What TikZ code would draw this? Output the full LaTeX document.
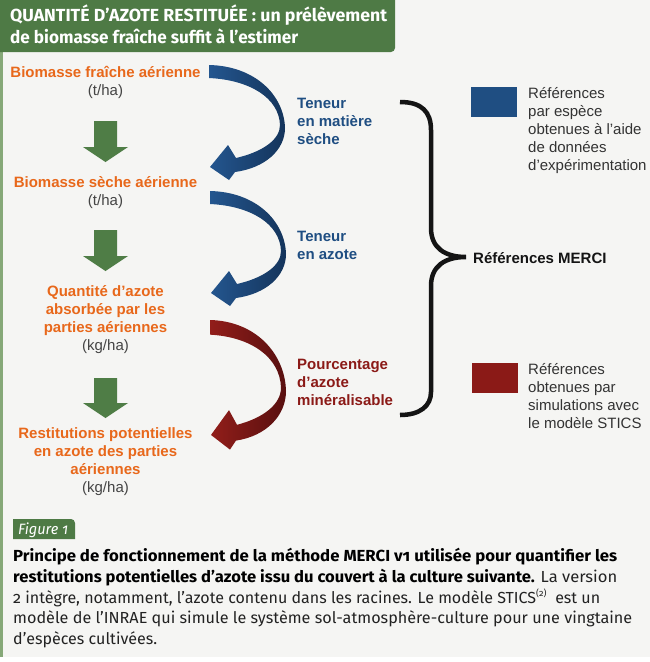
\documentclass[tikz,border=0pt]{standalone}
\usepackage{fontspec}
\setmainfont{Liberation Sans}
\newfontfamily\capfont[Numbers=OldStyle]{Fira Sans}
\usepackage{graphicx}
\definecolor{bgc}{HTML}{F5F5F3}
\definecolor{hdrG}{HTML}{4E7A45}
\definecolor{arrG}{HTML}{4F7D46}
\definecolor{bordG}{HTML}{86A878}
\definecolor{orT}{HTML}{E8681B}
\definecolor{blT}{HTML}{1F4E82}
\definecolor{rdT}{HTML}{8B1A17}
\definecolor{grT}{HTML}{444444}
\definecolor{blL}{HTML}{24568F}
\definecolor{blD}{HTML}{14345B}
\definecolor{rdL}{HTML}{921E1A}
\definecolor{rdD}{HTML}{580F0F}
\definecolor{capT}{HTML}{222222}
\definecolor{legT}{HTML}{333333}
\newcommand\fitw[2]{\resizebox{#1pt}{\height}{#2}}
\newcommand\curvarrow[5]{%
  \begin{scope}[shift={(#1,#2)},yscale=#3]
  \shade[left color=#4,right color=#5] (0,0) .. controls (46,1) and (75,30) .. (76,63)
    .. controls (76,85) and (56,103) .. (26,107) -- (20,115) -- (1,102) -- (19,80) -- (27,93)
    .. controls (53,87) and (71,75) .. (71,60) .. controls (70,33) and (41,15) .. (0,13) -- cycle;
  \end{scope}}
\newcommand\greenarrow[2]{%
  \fill[arrG] (94,#1) -- (117,#1) -- (117,{#2-15}) -- (128,{#2-15}) -- (105.5,#2)
    -- (83,{#2-15}) -- (94,{#2-15}) -- cycle;}
\tikzset{
  otext/.style={font=\fontsize{15}{18}\selectfont\bfseries, text=orT, inner sep=0pt, anchor=base},
  utext/.style={font=\fontsize{15}{18}\selectfont, text=grT, inner sep=0pt, anchor=base},
  btext/.style={font=\fontsize{15}{18}\selectfont\bfseries, text=blT, inner sep=0pt, anchor=base west},
  rtext/.style={font=\fontsize{15}{18}\selectfont\bfseries, text=rdT, inner sep=0pt, anchor=base west},
  ltext/.style={font=\fontsize{15}{18}\selectfont, text=legT, inner sep=0pt, anchor=base west},
  ttext/.style={font=\fontsize{17.5}{20}\selectfont\capfont\bfseries, text=white, inner sep=0pt, anchor=base west},
  ctext/.style={font=\fontsize{16}{20}\selectfont\capfont, text=capT, inner sep=0pt, anchor=base west},
  legbox/.style={inner sep=0pt, minimum width=46pt, minimum height=30pt}
}
\begin{document}
\begin{tikzpicture}[x=1pt,y=-1pt]
\useasboundingbox (0,0) rectangle (650,662);
\fill[white] (0,0) rectangle (650,662);
\fill[bgc] (0,0) rectangle (650,657);
\fill[bordG] (0,50) rectangle (2.5,657);
% header
\fill[hdrG] (0,0) -- (395,0) -- (395,48) .. controls (395,50.2) and (393.2,52) .. (391,52) -- (0,52) -- cycle;
\node[ttext] (t1) at (10,21) {\fitw{377}{QUANTITÉ D’AZOTE RESTITUÉE : un prélèvement}};
\node[ttext] (t2) at (10,43) {\fitw{288}{de biomasse fraîche suffit à l’estimer}};
% left column
\node[otext] (bf) at (105.5,77) {Biomasse fraîche aérienne};
\node[utext] (bfu) at (105.5,95) {(t/ha)};
\node[otext] (bs) at (105.5,187) {Biomasse sèche aérienne};
\node[utext] (bsu) at (105.5,205) {(t/ha)};
\node[otext] (q1) at (105.5,296) {Quantité d’azote};
\node[otext] (q2) at (105.5,314) {absorbée par les};
\node[otext] (q3) at (105.5,332) {parties aériennes};
\node[utext] (qu) at (105.5,350) {(kg/ha)};
\node[otext] (r1) at (105.5,438) {Restitutions potentielles};
\node[otext] (r2) at (105.5,456) {en azote des parties};
\node[otext] (r3) at (105.5,474) {aériennes};
\node[utext] (ru) at (105.5,492) {(kg/ha)};
\greenarrow{121}{162}
\greenarrow{230}{271}
\greenarrow{378}{418}
% curved arrows
\curvarrow{209}{65}{1}{blL}{blD}
\curvarrow{210}{191}{1}{blL}{blD}
\curvarrow{210}{320}{1.127}{rdL}{rdD}
% labels
\node[btext] (a1) at (297,108) {Teneur};
\node[btext] (a2) at (297,126) {en matière};
\node[btext] (a3) at (297,144) {sèche};
\node[btext] (b1) at (297,241) {Teneur};
\node[btext] (b2) at (297,259) {en azote};
\node[rtext] (c1) at (297,369) {Pourcentage};
\node[rtext] (c2) at (297,387) {d’azote};
\node[rtext] (c3) at (297,405) {minéralisable};
% brace
\draw[line width=4.5pt, black!92] (400,102) .. controls (422,102) and (431,112) .. (431,130)
  -- (431,228) .. controls (431,248) and (445,257) .. (466,257)
  .. controls (445,257) and (431,266) .. (431,286) -- (431,392)
  .. controls (431,406) and (420,415) .. (400,415);
\node[font=\fontsize{15}{18}\selectfont\bfseries, text=black!92, inner sep=0pt, anchor=base west] (merci) at (473,263) {Références MERCI};
% legend
\node[legbox, fill=blT] (lb) at (494,102) {};
\node[ltext] (l1) at (528,98) {Références};
\node[ltext] (l2) at (528,116) {par espèce};
\node[ltext] (l3) at (528,134) {obtenues à l'aide};
\node[ltext] (l4) at (528,152) {de données};
\node[ltext] (l5) at (528,170) {d'expérimentation};
\node[legbox, fill=rdT] (lr) at (494.5,378) {};
\node[ltext] (m1) at (528,374) {Références};
\node[ltext] (m2) at (528,392) {obtenues par};
\node[ltext] (m3) at (528,410) {simulations avec};
\node[ltext] (m4) at (528,428) {le modèle STICS};
% caption
\fill[hdrG] (13,539) -- (13,519) -- (71,519) .. controls (73.2,519) and (75,520.8) .. (75,523) -- (75,539) -- cycle;
\node[font=\fontsize{15}{18}\selectfont\capfont\itshape, text=white, inner sep=0pt, anchor=base west] (fig) at (18,534) {\fitw{50}{Figure 1}};
\node[ctext] (k1) at (13,561) {\fitw{604}{\bfseries\color{black}Principe de fonctionnement de la méthode MERCI v1 utilisée pour quantifier les}};
\node[ctext] (k2) at (13,582) {\fitw{604}{{\bfseries\color{black}restitutions potentielles d’azote issu du couvert à la culture suivante.} La version}};
\node[ctext] (k3) at (13,603) {\fitw{587}{2 intègre, notamment, l’azote contenu dans les racines. Le modèle STICS\textsuperscript{\fontsize{9}{9}\selectfont(2)}\hspace{4pt} est un}};
\node[ctext] (k4) at (13,623.5) {\fitw{619}{modèle de l’INRAE qui simule le système sol-atmosphère-culture pour une vingtaine}};
\node[ctext] (k5) at (13,644) {\fitw{144}{d’espèces cultivées.}};
\end{tikzpicture}
\end{document}
